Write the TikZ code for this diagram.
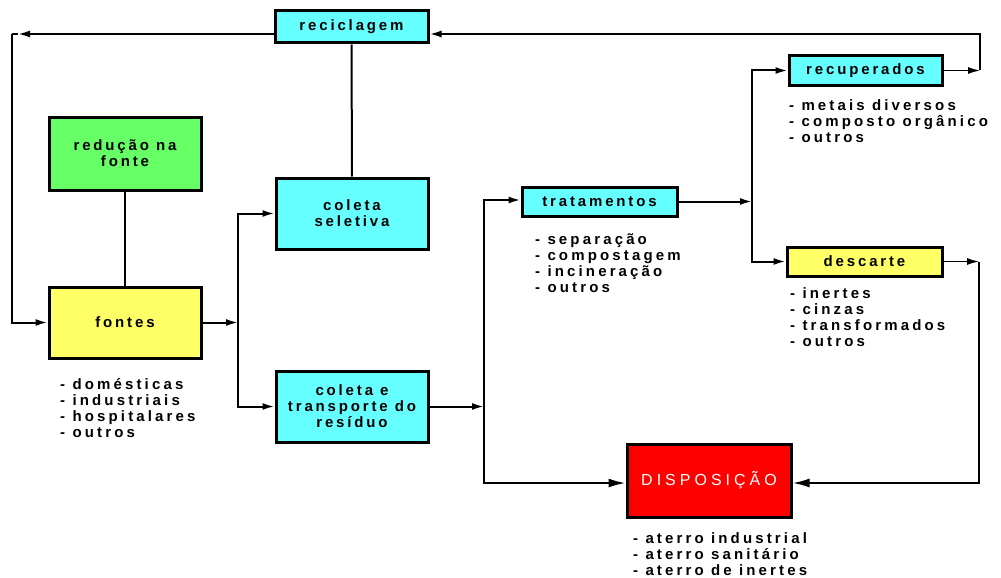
\documentclass[tikz,border=0pt]{standalone}
\usepackage{fontspec}
\usetikzlibrary{arrows.meta}
\newfontfamily\lblfont[LetterSpace=19]{Liberation Sans}
\newfontfamily\lstfont[LetterSpace=21]{Liberation Sans}
\newfontfamily\dispfont[LetterSpace=25]{Liberation Sans}
\definecolor{cy}{HTML}{66FFFF}
\definecolor{gr}{HTML}{66FF66}
\definecolor{ye}{HTML}{FFFF66}
\definecolor{rd}{HTML}{FF0000}
\tikzset{
  box/.style={draw=black, line width=3pt, rectangle, inner sep=0pt, align=center,
    font=\lblfont\bfseries\fontsize{15}{16}\selectfont},
  listtxt/.style={anchor=north west, inner sep=0pt, align=left,
    font=\lstfont\bfseries\fontsize{15}{16}\selectfont},
  conn/.style={line width=2pt, line join=miter},
  thinconn/.style={line width=1.2pt},
  tip/.style={-{Latex[length=12pt,width=7pt]}},
  bigtip/.style={-{Latex[length=17pt,width=9pt]}}
}
\begin{document}
\begin{tikzpicture}[x=1pt,y=-1pt]
\useasboundingbox (0,0) rectangle (1001,578);
% boxes
\node[box, fill=cy, minimum width=153pt, minimum height=32pt] (recic) at (351.5,27) {reciclagem};
\node[box, fill=gr, minimum width=152pt, minimum height=73pt] (reduc) at (125,153.5) {redução na\\fonte};
\node[box, fill=ye, minimum width=152pt, minimum height=71pt] (fontes) at (125,322.5) {fontes};
\node[box, fill=cy, minimum width=152pt, minimum height=71pt] (selet) at (352,213.5) {coleta\\seletiva};
\node[box, fill=cy, minimum width=152pt, minimum height=71pt] (transp) at (352,406.5) {coleta e\\transporte do\\resíduo};
\node[box, fill=cy, minimum width=155pt, minimum height=29pt] (trat) at (599.5,201.5) {tratamentos};
\node[box, fill=cy, minimum width=153pt, minimum height=29pt] (recup) at (865.5,70.5) {recuperados};
\node[box, fill=ye, minimum width=155pt, minimum height=29pt] (desc) at (864.5,261.5) {descarte};
\node[box, fill=rd, minimum width=164pt, minimum height=73pt, text=white,
  font=\dispfont\fontsize{16}{18}\selectfont] (disp) at (709,480.5) {DISPOSIÇÃO};
% lists
\node[listtxt] (lfontes) at (60,378) {- domésticas\\- industriais\\- hospitalares\\- outros};
\node[listtxt] (ltrat) at (535,233) {- separação\\- compostagem\\- incineração\\- outros};
\node[listtxt] (lrecup) at (789,99) {- metais diversos\\- composto orgânico\\- outros};
\node[listtxt] (ldesc) at (790,287) {- inertes\\- cinzas\\- transformados\\- outros};
\node[listtxt] (ldisp) at (633,532) {- aterro industrial\\- aterro sanitário\\- aterro de inertes};
% coordinates
\coordinate (a1) at (18,34);
\coordinate (c1) at (12,34);
\coordinate (c2) at (980,70.5);
\coordinate (c3) at (238,322.5);
\coordinate (c4) at (484,406.5);
\coordinate (c5) at (752,201.5);
\coordinate (c6) at (979,261.5);
% connectors
\draw[conn,tip] ([yshift=-7pt]recic.west) -- (a1);
\draw[conn] (a1) -- (c1);
\draw[conn,tip] (c1) |- (fontes.west);
\draw[thinconn,tip] (recup.east) -- (c2);
\draw[conn,tip] (c2) |- ([yshift=-7pt]recic.east);
\draw[conn] (recic.south) -- (selet.north);
\draw[conn] (reduc.south) -- (fontes.north);
\draw[conn,tip] (fontes.east) -- (c3);
\draw[conn,tip] (c3) |- (selet.west);
\draw[conn,tip] (c3) |- (transp.west);
\draw[conn,tip] (transp.east) -- (c4);
\draw[conn,tip] (c4) |- ([yshift=1.5pt]trat.west);
\draw[conn,bigtip] (c4) |- ([yshift=-2.5pt]disp.west);
\draw[conn,tip] (trat.east) -- (c5);
\draw[conn,tip] (c5) |- (recup.west);
\draw[conn,tip] (c5) |- (desc.west);
\draw[thinconn,tip] (desc.east) -- (c6);
\draw[conn,bigtip] (c6) |- ([yshift=-2.5pt]disp.east);
\end{tikzpicture}
\end{document}
